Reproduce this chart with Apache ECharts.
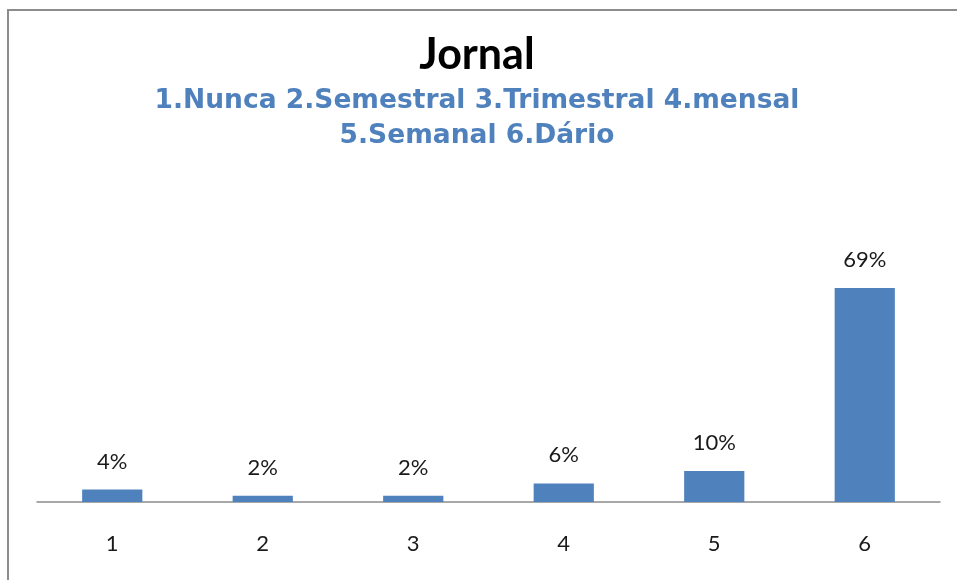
<!DOCTYPE html>
<html>
<head>
<meta charset="utf-8">
<script src="https://cdn.jsdelivr.net/npm/echarts@6/dist/echarts.min.js"></script>
<style>
  html, body { margin: 0; padding: 0; background: #fff; }
  #frame { position: absolute; left: 7px; top: 9px; width: 1000px; height: 620px;
           border-left: 2px solid #8c8c8c; border-top: 2px solid #8c8c8c; }
  #chart { position: absolute; left: 0; top: 0; width: 957px; height: 580px; }
</style>
</head>
<body>
<div id="frame"></div>
<div id="chart"></div>
<script>
// Frequency of newspaper reading, share of respondents per answer
const categories = ['1', '2', '3', '4', '5', '6'];
const shares = [4, 2, 2, 6, 10, 69];
const chartTitle = 'Jornal';
const subtitleLines = ['1.Nunca 2.Semestral 3.Trimestral 4.mensal', '5.Semanal 6.Dário'];

const headerCenter = 472;
const subtitleStyle = {
  fontFamily: 'DejaVu Sans', fontWeight: 'bold', fontSize: 26.5, color: '#4f81bd'
};

const chart = echarts.init(document.getElementById('chart'));
chart.setOption({
  animation: false,
  title: [
    {
      text: chartTitle,
      left: headerCenter,
      textAlign: 'center',
      top: 29,
      textStyle: { fontFamily: 'Lato', fontWeight: 'bold', fontSize: 43, color: '#000' }
    },
    { text: subtitleLines[0], left: headerCenter, textAlign: 'center', top: 83, textStyle: subtitleStyle },
    { text: subtitleLines[1], left: headerCenter, textAlign: 'center', top: 118, textStyle: subtitleStyle }
  ],
  grid: { left: 37, right: 17, top: 254, bottom: 78 },
  xAxis: {
    type: 'category',
    data: categories,
    axisLine: { lineStyle: { color: '#8c8c8c', width: 1.5 } },
    axisTick: { show: false },
    axisLabel: { margin: 31, fontSize: 22, color: '#1a1a1a', fontFamily: 'Lato' }
  },
  yAxis: {
    type: 'value',
    min: 0,
    max: 80,
    show: false,
    splitLine: { show: false }
  },
  series: [{
    type: 'bar',
    data: shares,
    barWidth: '40%',
    itemStyle: { color: '#4f81bd' },
    label: {
      show: true,
      position: 'top',
      distance: 17,
      formatter: p => p.value + '%',
      fontSize: 22,
      color: '#1a1a1a',
      fontFamily: 'Lato'
    }
  }]
});
</script>
</body>
</html>
